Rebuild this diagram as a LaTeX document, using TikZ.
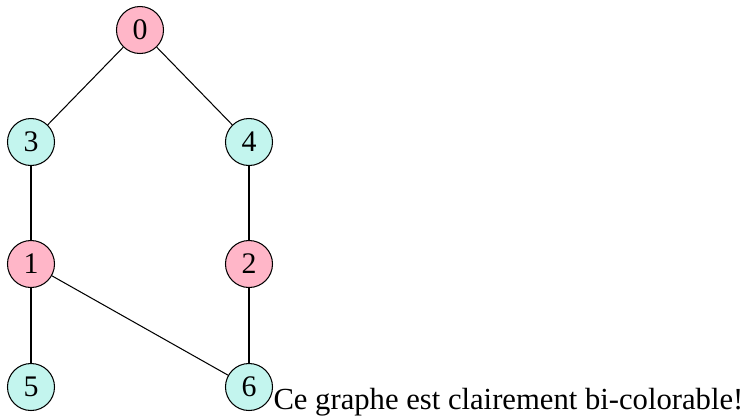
\documentclass[tikz,border=0pt]{standalone}
\usepackage{fontspec}
\setmainfont{Liberation Serif}
\definecolor{rose}{RGB}{255,182,200}
\definecolor{turq}{RGB}{195,245,238}
\begin{document}
\begin{tikzpicture}[x=0.385pt,y=-0.385pt,
  vtx/.style={circle,draw,line width=0.4pt,minimum size=18.1pt,inner sep=0pt,font=\fontsize{11.5}{13}\selectfont},
  pinkv/.style={vtx,fill=rose},
  cyanv/.style={vtx,fill=turq},
  edge/.style={line width=0.4pt}]
\useasboundingbox (0,0) rectangle (744,415);
\node[pinkv] (n0) at (140,30) {0};
\node[cyanv] (n3) at (31,142) {3};
\node[cyanv] (n4) at (249,142) {4};
\node[pinkv] (n1) at (31,264) {1};
\node[pinkv] (n2) at (249,264) {2};
\node[cyanv] (n5) at (31,387) {5};
\node[cyanv] (n6) at (249,387) {6};
\draw[edge] (n0) -- (n3);
\draw[edge] (n0) -- (n4);
\draw[edge] (n3) -- (n1);
\draw[edge] (n4) -- (n2);
\draw[edge] (n1) -- (n5);
\draw[edge] (n1) -- (n6);
\draw[edge] (n2) -- (n6);
\node[anchor=base west,inner sep=0pt,font=\fontsize{11.8}{14}\selectfont] (txt) at (273,409) {Ce graphe est clairement bi-colorable!};
\end{tikzpicture}
\end{document}
